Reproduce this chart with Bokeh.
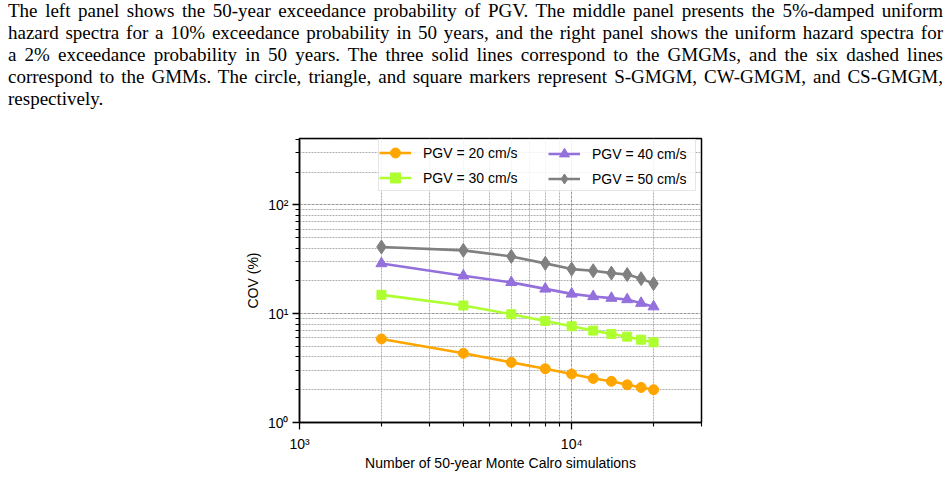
from bokeh.plotting import figure
from bokeh.models import Div, FixedTicker, Legend, LegendItem
from bokeh.layouts import column
from bokeh.embed import file_html
from bokeh.resources import INLINE

caption_lines = [
    "The left panel shows the 50-year exceedance probability of PGV. The middle panel presents the 5%-damped uniform",
    "hazard spectra for a 10% exceedance probability in 50 years, and the right panel shows the uniform hazard spectra for",
    "a 2% exceedance probability in 50 years. The three solid lines correspond to the GMGMs, and the six dashed lines",
    "correspond to the GMMs. The circle, triangle, and square markers represent S-GMGM, CW-GMGM, and CS-GMGM,",
    "respectively.",
]

sims = [2000, 4000, 6000, 8000, 10000, 12000, 14000, 16000, 18000, 20000]
cov_20 = [5.86, 4.33, 3.57, 3.12, 2.79, 2.54, 2.39, 2.22, 2.10, 2.00]
cov_30 = [14.9, 11.9, 9.89, 8.58, 7.67, 6.99, 6.51, 6.15, 5.77, 5.46]
cov_40 = [28.9, 22.3, 19.4, 16.9, 15.2, 14.4, 13.9, 13.5, 12.5, 11.6]
cov_50 = [41.0, 38.2, 33.6, 29.0, 25.7, 24.8, 23.6, 22.9, 21.0, 18.9]

labels = ["PGV = 20 cm/s", "PGV = 30 cm/s", "PGV = 40 cm/s", "PGV = 50 cm/s"]
series = [cov_20, cov_30, cov_40, cov_50]
colors = ["#FFA500", "#ADFF2F", "#9370DB", "#808080"]
markers = ["circle", "square", "triangle", "diamond"]
msizes = [10, 9, 11, 14]

x_major = [1000, 10000]
x_minor = [2000, 3000, 4000, 5000, 6000, 7000, 8000, 9000, 20000, 30000]
x_labels = {1000: "10³", 10000: "10⁴"}
y_major = [1, 10, 100]
y_minor = [2, 3, 4, 5, 6, 7, 8, 9, 20, 30, 40, 50, 60, 70, 80, 90, 200, 300, 400]
y_labels = {1: "10⁰", 10: "10¹", 100: "10²"}

line_html = []
for i, t in enumerate(caption_lines):
    last = "justify" if i < len(caption_lines) - 1 else "left"
    line_html.append(f'<div style="text-align:justify;text-align-last:{last};">{t}</div>')
div = Div(text='<div style="font-family:\'Liberation Serif\',\'Times New Roman\',serif;font-size:19px;'
               'line-height:22px;width:935px;margin:0 0 0 8px;color:black;">' + "".join(line_html) + '</div>',
          width=951, height=112, margin=(0, 0, 0, 0))

p = figure(x_axis_type="log", y_axis_type="log", x_range=(1000, 30000), y_range=(1, 10 ** 2.61),
           frame_width=402, frame_height=284, min_border_left=299, min_border_right=250,
           min_border_top=26, min_border_bottom=55, output_backend="svg", toolbar_location=None,
           margin=(0, 0, 0, 0))
p.title.visible = False
p.background_fill_color = "white"
p.border_fill_color = "white"
p.outline_line_color = "black"
p.outline_line_width = 1.5

xt = FixedTicker(ticks=x_major, minor_ticks=x_minor)
yt = FixedTicker(ticks=y_major, minor_ticks=y_minor)
p.xaxis.ticker = xt
p.yaxis.ticker = yt
p.xgrid.ticker = xt
p.ygrid.ticker = yt
p.xaxis.major_label_overrides = x_labels
p.yaxis.major_label_overrides = y_labels

for ax in (p.xaxis, p.yaxis):
    ax.axis_line_color = "black"
    ax.axis_line_width = 1.5
    ax.major_tick_line_color = "black"
    ax.major_tick_line_width = 1.3
    ax.minor_tick_line_color = "black"
    ax.minor_tick_line_width = 1.1
    ax.major_tick_out = 7
    ax.major_tick_in = 0
    ax.minor_tick_out = 4
    ax.minor_tick_in = 0
    ax.major_label_text_font = "Liberation Sans"
    ax.major_label_text_font_size = "14px"
    ax.major_label_text_color = "black"
    ax.axis_label_text_font = "Liberation Sans"
    ax.axis_label_text_font_size = "14px"
    ax.axis_label_text_font_style = "normal"
    ax.axis_label_text_color = "black"
p.xaxis.axis_label = "Number of 50-year Monte Calro simulations"
p.yaxis.axis_label = "COV (%)"
p.xaxis.major_label_standoff = 6
p.yaxis.major_label_standoff = 4
p.xaxis.axis_label_standoff = 0
p.yaxis.axis_label_standoff = 4

for g in (p.xgrid, p.ygrid):
    g.grid_line_color = "#999999"
    g.grid_line_width = 1
    g.grid_line_dash = "3 1"
    g.minor_grid_line_color = "#a6a6a6"
    g.minor_grid_line_width = 0.9
    g.minor_grid_line_dash = "2 1"

items = []
for lab, ys, c, m, s in zip(labels, series, colors, markers, msizes):
    ln = p.line(sims, ys, line_color=c, line_width=2.6)
    sc = p.scatter(sims, ys, marker=m, size=s, fill_color=c, line_color=c)
    items.append(LegendItem(label=lab, renderers=[ln, sc]))

common = dict(glyph_width=32, glyph_height=25, label_height=25, label_standoff=12, spacing=-5,
              padding=0, margin=0, label_text_font="Liberation Sans", label_text_font_size="14px",
              label_text_color="black", orientation="vertical")
legA = Legend(items=[items[0], items[1]], location=(79, 231), label_width=272,
              border_line_color="#cccccc", border_line_width=1, background_fill_color="white",
              background_fill_alpha=0.85, **common)
legB = Legend(items=[items[2], items[3]], location=(249, 231), border_line_alpha=0,
              background_fill_alpha=0, **common)
p.add_layout(legA, "center")
p.add_layout(legB, "center")

layout = column(div, p, spacing=0)
open("out.html", "w").write(file_html(layout, INLINE))
